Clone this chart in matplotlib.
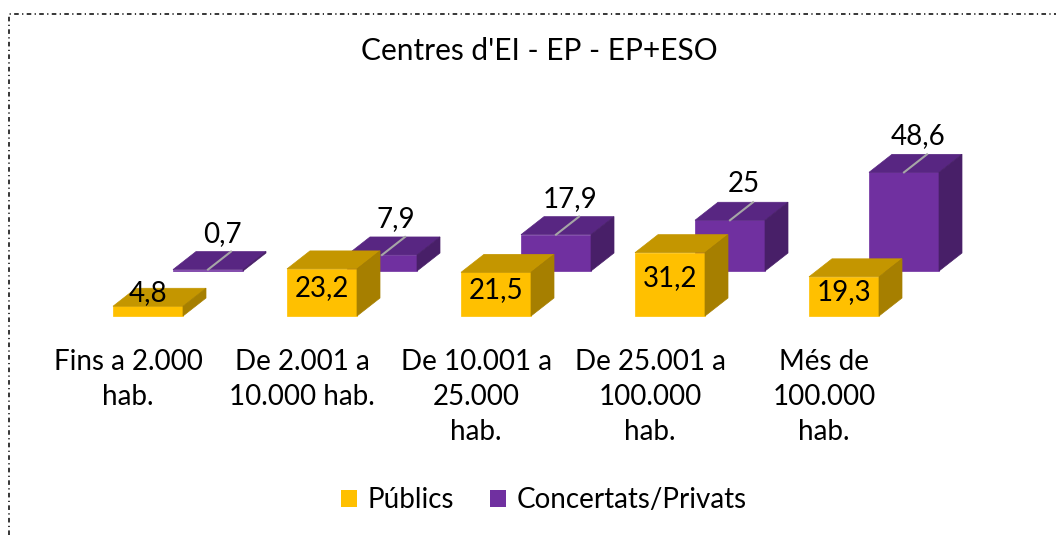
import matplotlib.pyplot as plt
from matplotlib.patches import Polygon, Patch
from matplotlib.lines import Line2D

### Data ###
categories = ["Fins a 2.000\nhab.", "De 2.001 a\n10.000 hab.", "De 10.001 a\n25.000\nhab.",
              "De 25.001 a\n100.000\nhab.", "Més de\n100.000\nhab."]
publics = [4.8, 23.2, 21.5, 31.2, 19.3]
privats = [0.7, 7.9, 17.9, 25, 48.6]
seriesNames = ["Públics", "Concertats/Privats"]
title = "Centres d'EI - EP - EP+ESO"

### Colors (front, top, side) ###
yellow = ("#FFC000", "#C49600", "#A67F00")
purple = ("#7030A0", "#582682", "#481F68")

plt.rcParams['font.family'] = ['Lato', 'DejaVu Sans']
fontSize = 20

W, H = 1056, 535
fig = plt.figure(figsize=(W / 100, H / 100), dpi=100)
ax = fig.add_axes([0, 0, 1, 1])
ax.axis('off')

# scale: one category = 174 px, one unit of value = 2.03 px
pxX = 1 / 174.0
pxY = 1 / 2.03
ax.set_xlim(-148 * pxX, (W - 148) * pxX)
ax.set_ylim(-(H - 316) * pxY, 316 * pxY)

barWidth = 70 * pxX
depthX = 23 * pxX
depthY = 18 * pxY
rowX = 60 * pxX
rowY = 45 * pxY


def drawBox(ax, xc, y0, h, colors):
	xl = xc - barWidth / 2
	xr = xc + barWidth / 2
	front = [(xl, y0), (xr, y0), (xr, y0 + h), (xl, y0 + h)]
	top = [(xl, y0 + h), (xr, y0 + h), (xr + depthX, y0 + h + depthY), (xl + depthX, y0 + h + depthY)]
	side = [(xr, y0), (xr + depthX, y0 + depthY), (xr + depthX, y0 + h + depthY), (xr, y0 + h)]
	for pts, c in zip([front, top, side], colors):
		ax.add_patch(Polygon(pts, closed=True, facecolor=c, edgecolor=c, linewidth=0.5))


# back row: Concertats/Privats
for i, v in enumerate(privats):
	xc = i + rowX
	drawBox(ax, xc, rowY, v, purple)
	ax.plot([xc, xc + depthX], [rowY + v, rowY + v + depthY], color="#A6A6A6", linewidth=1.5)
	ax.text(xc + 14 * pxX, rowY + v + 36 * pxY, str(v).replace('.', ','),
		ha='center', va='center', fontsize=fontSize, color='black')

# front row: Públics
for i, v in enumerate(publics):
	drawBox(ax, i, 0, v, yellow)
	ax.text(i, max(0.6 * v, 11.5), str(v).replace('.', ','),
		ha='center', va='center', fontsize=fontSize, color='black')

# category labels
for i, label in enumerate(categories):
	ax.text(i - 20 * pxX, -33 * pxY, label, ha='center', va='top',
		fontsize=fontSize, linespacing=1.42, color='black')

fig.text(539 / W, 1 - 51 / H, title, ha='center', va='center', fontsize=21.5, color='black')

handles = [Patch(facecolor=yellow[0]), Patch(facecolor=purple[0])]
fig.legend(handles, seriesNames, loc='center', bbox_to_anchor=(544 / W, 1 - 500 / H),
	ncol=2, frameon=False, fontsize=fontSize, handlelength=0.55, handleheight=0.55,
	handletextpad=0.4, columnspacing=1.3)

# dash-dot border
border = Line2D([9 / W, 9 / W, 1.0], [0.0, 1 - 14 / H, 1 - 14 / H], transform=fig.transFigure,
	color="black", linewidth=1.1, dashes=(3, 2.2, 0.8, 2.2))
fig.add_artist(border)

fig.savefig("out.png", dpi=100)
